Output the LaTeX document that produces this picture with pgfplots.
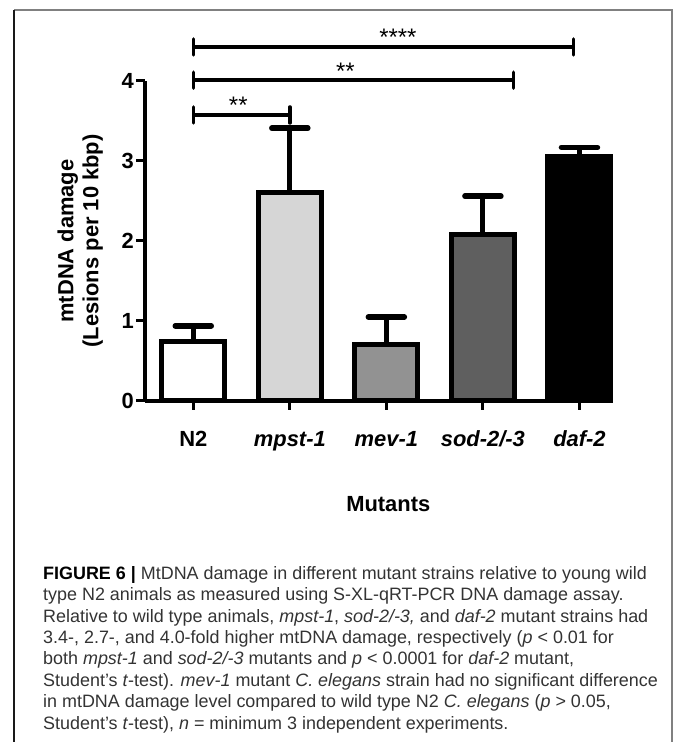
\documentclass[border=0pt]{standalone}
\usepackage{fontspec}
\setmainfont{Liberation Sans}
\usepackage{pgfplots}
\pgfplotsset{compat=1.18}
\definecolor{barA}{HTML}{FFFFFF}
\definecolor{barB}{HTML}{D6D6D6}
\definecolor{barC}{HTML}{929292}
\definecolor{barD}{HTML}{5F5F5F}
\definecolor{barE}{HTML}{000000}
\definecolor{captxt}{HTML}{333333}
\begin{document}
\begin{tikzpicture}[x=1bp,y=1bp]
\useasboundingbox (0,0) rectangle (673,742);
\draw[line width=1.5bp, black!50] (14,732) -- (672,732) -- (672,0);
\draw[line width=1.8bp, black!90] (14,732) -- (14,0);
\begin{axis}[
  at={(145bp,341bp)}, anchor=south west,
  scale only axis, width=447bp, height=320bp,
  xmin=-0.5, xmax=4.13, ymin=0, ymax=4,
  axis x line*=bottom, axis y line*=left,
  axis line style={line width=4.5bp, black},
  xtick={0,1,2,3,4}, ytick={0,1,2,3,4},
  xticklabels={N2, \textit{mpst-1}, \textit{mev-1}, \textit{sod-2/-3}, \textit{daf-2}},
  tick align=outside, major tick length=9bp,
  tick style={line width=3bp, black},
  /pgf/number format/assume math mode=true,
  xticklabel style={font=\bfseries\fontsize{22}{26}\selectfont, inner sep=2bp, anchor=base, yshift=-37bp},
  yticklabel style={font=\bfseries\fontsize{22}{26}\selectfont, inner sep=2bp},
  ylabel={mtDNA damage\\(Lesions per 10 kbp)},
  ylabel style={font=\bfseries\fontsize{22}{25}\selectfont, align=center, at={(axis description cs:-0.145,0.5)}, anchor=center},
  xlabel={Mutants},
  xlabel style={font=\bfseries\fontsize{22}{26}\selectfont, at={(axis cs:2.02,0)}, anchor=center, yshift=-103bp},
  clip=false,
]
\addplot[ybar, bar shift=0pt, bar width=63bp, fill=barA, draw=black, line width=5bp,
  error bars/.cd, y dir=plus, y explicit, error mark=|,
  error bar style={line width=5bp, black},
  error mark options={line width=5.5bp, black, mark size=18bp, line cap=round}]
  coordinates {(0,0.74) +- (0,0.20)};
\addplot[ybar, bar shift=0pt, bar width=63bp, fill=barB, draw=black, line width=5bp,
  error bars/.cd, y dir=plus, y explicit, error mark=|,
  error bar style={line width=5bp, black},
  error mark options={line width=5.5bp, black, mark size=18bp, line cap=round}]
  coordinates {(1,2.61) +- (0,0.80)};
\addplot[ybar, bar shift=0pt, bar width=63bp, fill=barC, draw=black, line width=5bp,
  error bars/.cd, y dir=plus, y explicit, error mark=|,
  error bar style={line width=5bp, black},
  error mark options={line width=5.5bp, black, mark size=18bp, line cap=round}]
  coordinates {(2,0.70) +- (0,0.35)};
\addplot[ybar, bar shift=0pt, bar width=63bp, fill=barD, draw=black, line width=5bp,
  error bars/.cd, y dir=plus, y explicit, error mark=|,
  error bar style={line width=5bp, black},
  error mark options={line width=5.5bp, black, mark size=18bp, line cap=round}]
  coordinates {(3,2.08) +- (0,0.48)};
\addplot[ybar, bar shift=0pt, bar width=63bp, fill=barE, draw=black, line width=5bp,
  error bars/.cd, y dir=plus, y explicit, error mark=|,
  error bar style={line width=5bp, black},
  error mark options={line width=5.5bp, black, mark size=18bp, line cap=round}]
  coordinates {(4,3.05) +- (0,0.12)};
% significance brackets
\draw[line width=4bp] (axis cs:0,3.575) -- (axis cs:1,3.575);
\draw[line width=3.5bp, line cap=round] ([yshift=-8bp]axis cs:0,3.575) -- ([yshift=8bp]axis cs:0,3.575);
\draw[line width=3.5bp, line cap=round] ([yshift=-8bp]axis cs:1,3.575) -- ([yshift=8bp]axis cs:1,3.575);
\node[font=\fontsize{24}{26}\selectfont, anchor=base, inner sep=0pt] at ([yshift=1bp]axis cs:0.466,3.575) {**};
\draw[line width=4bp] (axis cs:0,4.01) -- (axis cs:3.316,4.01);
\draw[line width=3.5bp, line cap=round] ([yshift=-8bp]axis cs:0,4.01) -- ([yshift=8bp]axis cs:0,4.01);
\draw[line width=3.5bp, line cap=round] ([yshift=-8bp]axis cs:3.316,4.01) -- ([yshift=8bp]axis cs:3.316,4.01);
\node[font=\fontsize{24}{26}\selectfont, anchor=base, inner sep=0pt] at ([yshift=1bp]axis cs:1.575,4.01) {**};
\draw[line width=4bp] (axis cs:0,4.425) -- (axis cs:3.938,4.425);
\draw[line width=3.5bp, line cap=round] ([yshift=-8bp]axis cs:0,4.425) -- ([yshift=8bp]axis cs:0,4.425);
\draw[line width=3.5bp, line cap=round] ([yshift=-8bp]axis cs:3.938,4.425) -- ([yshift=8bp]axis cs:3.938,4.425);
\node[font=\fontsize{24}{26}\selectfont, anchor=base, inner sep=0pt] at ([yshift=1bp]axis cs:2.12,4.425) {****};
\end{axis}
\node[anchor=north west, align=left, inner sep=0pt, text=captxt, font=\fontsize{18}{21.5}\selectfont] at (43,742-566)
{\textbf{\color{black}FIGURE 6 |} MtDNA damage in different mutant strains relative to young wild\\
type N2 animals as measured using S-XL-qRT-PCR DNA damage assay.\\
Relative to wild type animals, \textit{mpst-1}, \textit{sod-2/-3,} and \textit{daf-2} mutant strains had\\
3.4-, 2.7-, and 4.0-fold higher mtDNA damage, respectively (\textit{p} {<} 0.01 for\\
both \textit{mpst-1} and \textit{sod-2/-3} mutants and \textit{p} {<} 0.0001 for \textit{daf-2} mutant,\\
Student’s \textit{t}-test). \textit{mev-1} mutant \textit{C. elegans} strain had no significant difference\\
in mtDNA damage level compared to wild type N2 \textit{C. elegans} (\textit{p} {>} 0.05,\\
Student’s \textit{t}-test), \textit{n} = minimum 3 independent experiments.};
\end{tikzpicture}
\end{document}
